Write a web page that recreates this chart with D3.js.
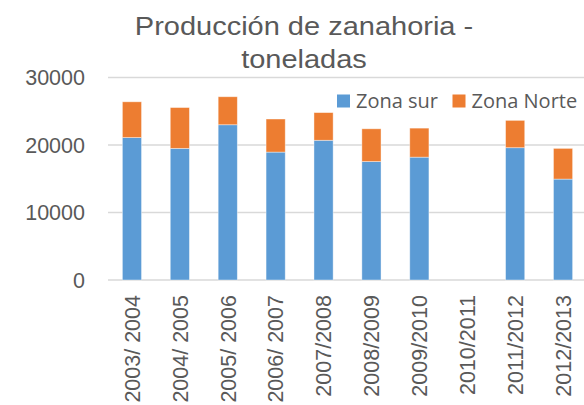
<!DOCTYPE html>
<html lang="es">
  <head>
    <meta charset="UTF-8" />
    <title>Producción de zanahoria</title>
    <style>
      body {
        margin: 0;
        background: #fff;
      }
      .axis-label {
        font-family: "Liberation Sans", Arial, sans-serif;
        font-size: 21.5px;
        fill: #595959;
      }
      .title {
        font-family: "Liberation Sans", Arial, sans-serif;
        font-size: 25px;
        fill: #595959;
      }
      .legend text {
        font-family: "Open Sans", sans-serif;
        font-size: 20px;
        fill: #595959;
      }
      .grid line {
        stroke: #d9d9d9;
        stroke-width: 1.3px;
      }
    </style>
  </head>
  <body>
    <div class="svg-container"></div>
    <script src="https://d3js.org/d3.v7.min.js"></script>
    <script>
      // data
      var seasons = [
        "2003/ 2004", "2004/ 2005", "2005/ 2006", "2006/ 2007", "2007/2008",
        "2008/2009", "2009/2010", "2010/2011", "2011/2012", "2012/2013"
      ];
      var zonaSur = [21100, 19500, 23000, 18950, 20700, 17550, 18200, 0, 19600, 14950];
      var zonaNorte = [5300, 6050, 4150, 4900, 4100, 4850, 4300, 0, 4050, 4550];
      var yTicks = [0, 10000, 20000, 30000];
      var seriesNames = ["Zona sur", "Zona Norte"];
      var colors = ["#5b9bd5", "#ed7d31"];

      var width = 584,
        height = 405;

      var svg = d3
        .select(".svg-container")
        .append("svg")
        .attr("width", width)
        .attr("height", height);

      var x = d3
        .scaleBand()
        .domain(seasons)
        .range([108, 587])
        .paddingInner(0.6)
        .paddingOuter(0.3);

      var y = d3.scaleLinear().domain([0, 30000]).range([280, 77.5]);

      // gridlines
      svg
        .append("g")
        .attr("class", "grid")
        .selectAll("line")
        .data(yTicks)
        .enter()
        .append("line")
        .attr("x1", 108)
        .attr("x2", 587)
        .attr("y1", (d) => y(d))
        .attr("y2", (d) => y(d));

      // y tick labels
      svg
        .append("g")
        .selectAll("text")
        .data(yTicks)
        .enter()
        .append("text")
        .attr("class", "axis-label")
        .attr("x", 85)
        .attr("y", (d) => y(d))
        .attr("dy", "0.36em")
        .attr("text-anchor", "end")
        .text((d) => d);

      // stacked bars
      var rows = seasons.map((s, i) => ({ season: s, sur: zonaSur[i], norte: zonaNorte[i] }));
      var stack = d3.stack().keys(["sur", "norte"])(rows);

      svg
        .selectAll(".serie")
        .data(stack)
        .enter()
        .append("g")
        .attr("class", "serie")
        .attr("fill", (d, i) => colors[i])
        .selectAll("rect")
        .data((d) => d.filter((p) => p[1] > p[0]))
        .enter()
        .append("rect")
        .attr("x", (d) => x(d.data.season))
        .attr("width", x.bandwidth())
        .attr("y", (d) => y(d[1]))
        .attr("height", (d) => y(d[0]) - y(d[1]))
        .attr("stroke", "rgba(255,255,255,0.5)")
        .attr("stroke-width", 0.8);

      // x labels, rotated
      svg
        .append("g")
        .selectAll("text")
        .data(seasons)
        .enter()
        .append("text")
        .attr("class", "axis-label")
        .attr("transform", (d) => "translate(" + (x(d) + x.bandwidth() / 2) + ",295) rotate(-90)")
        .attr("dy", "0.36em")
        .attr("text-anchor", "end")
        .text((d) => d);

      // title (glyphs are drawn wide in the original)
      var title = svg
        .append("text")
        .attr("class", "title")
        .attr("text-anchor", "middle")
        .attr("transform", "translate(304,0) scale(1.16,1)");
      title.append("tspan").attr("x", 0).attr("y", 35).text("Producción de zanahoria -");
      title.append("tspan").attr("x", 0).attr("y", 68).text("toneladas");

      // legend
      var legendX = [337, 452.5];
      var legend = svg
        .selectAll(".legend")
        .data(seriesNames)
        .enter()
        .append("g")
        .attr("class", "legend")
        .attr("transform", (d, i) => "translate(" + legendX[i] + ",94.5)");

      legend
        .append("rect")
        .attr("width", 13)
        .attr("height", 13)
        .attr("fill", (d, i) => colors[i]);

      legend
        .append("text")
        .attr("x", 19)
        .attr("y", 13)
        .text((d) => d);
    </script>
  </body>
</html>
